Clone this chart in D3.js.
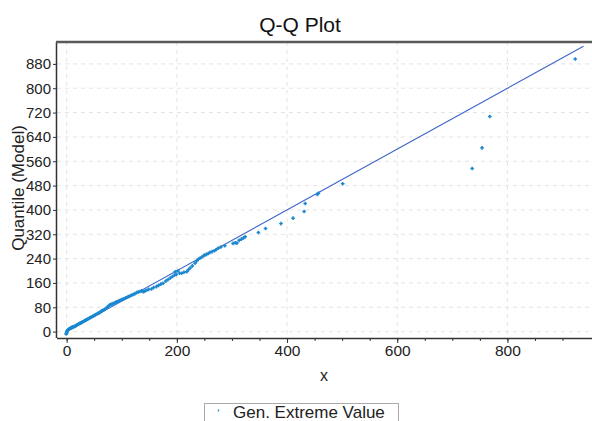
<!DOCTYPE html>
<html><head><meta charset="utf-8">
<script src="https://cdn.jsdelivr.net/npm/d3@7"></script>
<style>body{margin:0;background:#fff}svg{display:block;font-family:"Liberation Sans",Arial,sans-serif}</style>
</head><body>
<svg id="c" width="592" height="421"></svg>
<script>
const title = "Q-Q Plot";
const xLabel = "x";
const yLabel = "Quantile (Model)";
const seriesName = "Gen. Extreme Value";
const xTicks = [0, 200, 400, 600, 800];
const xMinorTicks = [0,50,100,150,200,250,300,350,400,450,500,550,600,650,700,750,800,850,900];
const yTicks = [0, 80, 160, 240, 320, 400, 480, 560, 640, 720, 800, 880];
const refLine = [[0, 0], [938, 938]];
// [sample quantile (x), model quantile]
const qqPoints = [
  [-1,-8],[0,-5],[0,-2],[1,0],[1,3],[2,5],[3,6],[4,8],[5,9],[6,10],
  [7,11],[8,12],[9,13],[10,14],[11,15],[13,16],[14,17],[16,19],[17,20],[19,22],
  [21,24],[22,25],[24,27],[26,29],[27,30],[29,32],[31,34],[33,36],[35,38],[36,39],
  [38,41],[40,43],[42,45],[44,47],[46,49],[48,51],[50,53],[52,55],[54,57],[56,59],
  [58,61],[60,63],[62,66],[64,68],[66,70],[68,72],[70,74],[72,77],[74,80],[76,84],
  [78,87],[80,89],[82,90],[84,92],[87,94],[89,96],[91,98],[94,100],[96,102],[99,104],
  [101,106],[104,108],[107,111],[110,113],[112,115],[115,117],[118,120],[121,122],[124,125],[127,128],
  [130,130],[133,132],[136,134],
  [139,131],[142,133],[145,136],[149,139],[154,140],[158,145],[163,148],[167,152],[171,156],[175,159],
  [180,166],[184,171],[188,176],[192,181],[196,186],[199,188],[197,197],[202,199],[205,192],[209,192],
  [213,195],[218,197],[221,203],[224,209],[228,216],[233,225],[236,232],[239,238],[242,241],[246,246],
  [249,250],[251,252],[254,254],[257,257],[260,260],[264,263],[268,266],[271,269],[275,274],[280,278],
  [287,282],[302,290],[306,292],[309,291],[313,300],[317,304],[321,308],[324,312],[348,326],[361,339],
  [389,355],[411,373],[431,395],[433,421],[455,451],[457,455],[501,486],
  [736,536],[754,604],[768,707],[923,896]
];

const svg = d3.select("#c");
const L = 57, R = 592, T = 42, B = 338;
const x = d3.scaleLinear().domain([-17.5, 953.5]).range([L, R]);
const y = d3.scaleLinear().domain([-21, 952]).range([B, T]);
const FONT = "Liberation Sans, Arial, sans-serif";

// grid
const g = svg.append("g");
g.selectAll(".vg").data(xTicks).join("line")
  .attr("x1", d => x(d)).attr("x2", d => x(d)).attr("y1", T).attr("y2", B)
  .attr("stroke", "#e4e4e4").attr("stroke-dasharray", "4,4");
g.selectAll(".hg").data(yTicks).join("line")
  .attr("x1", L).attr("x2", R).attr("y1", d => y(d)).attr("y2", d => y(d))
  .attr("stroke", "#e4e4e4").attr("stroke-dasharray", "4,4");

// x axis
const xAxis = svg.append("g").attr("transform", `translate(0,${B})`)
  .call(d3.axisBottom(x).tickValues(xTicks).tickSize(5).tickPadding(2));
svg.append("g").attr("transform", `translate(0,${B})`)
  .call(d3.axisBottom(x).tickValues(xMinorTicks).tickSize(3).tickFormat(""))
  .call(s => s.select(".domain").remove())
  .selectAll("line").attr("stroke", "#333");
xAxis.select(".domain").attr("d", `M${L},0.5H${R}`).attr("stroke", "#333").attr("stroke-width", 1.5);
xAxis.selectAll("line").attr("stroke", "#333");
xAxis.selectAll("text").attr("font-size", 15.5).attr("fill", "#222").attr("font-family", FONT);

// y axis
const yAxis = svg.append("g").attr("transform", `translate(${L},0)`)
  .call(d3.axisLeft(y).tickValues(yTicks).tickSize(4).tickPadding(2));
yAxis.select(".domain").attr("d", `M-0.5,${T}V${B}`).attr("stroke", "#333").attr("stroke-width", 1.5);
yAxis.selectAll("line").attr("stroke", "#333");
yAxis.selectAll("text").attr("font-size", 15).attr("fill", "#222").attr("font-family", FONT);

// top border
svg.append("line").attr("x1", L - 1).attr("x2", R).attr("y1", T).attr("y2", T)
  .attr("stroke", "#5a5a5a").attr("stroke-width", 2.5);

// reference line
svg.append("path").datum(refLine)
  .attr("d", d3.line().x(d => x(d[0])).y(d => y(d[1])))
  .attr("fill", "none").attr("stroke", "#3b63c9").attr("stroke-width", 1.1);

// points
svg.append("g").selectAll("path").data(qqPoints).join("path")
  .attr("d", d => { const px = x(d[0]), py = y(d[1]); return `M${px-1.8},${py}H${px+1.8}M${px},${py-1.8}V${py+1.8}`; })
  .attr("stroke", "#1a88d0").attr("stroke-width", 1.5).attr("fill", "none");

// titles
svg.append("text").attr("x", 300).attr("y", 32).attr("text-anchor", "middle")
  .attr("font-size", 21).attr("fill", "#111").text(title);
svg.append("text").attr("x", 324).attr("y", 381).attr("text-anchor", "middle")
  .attr("font-size", 16).attr("fill", "#222").text(xLabel);
svg.append("text").attr("transform", `translate(23.5,188) rotate(-90)`)
  .attr("text-anchor", "middle").attr("font-size", 17).attr("fill", "#222").text(yLabel);

// legend
const lg = svg.append("g");
lg.append("rect").attr("x", 204.5).attr("y", 403.5).attr("width", 194).attr("height", 24)
  .attr("fill", "#fff").attr("stroke", "#aaa");
lg.append("path").attr("d", "M218.5,409.5v2").attr("stroke", "#1a88d0").attr("stroke-width", 1.3);
lg.append("text").attr("x", 233).attr("y", 418).attr("font-size", 17).attr("fill", "#222").text(seriesName);
</script>
</body></html>
